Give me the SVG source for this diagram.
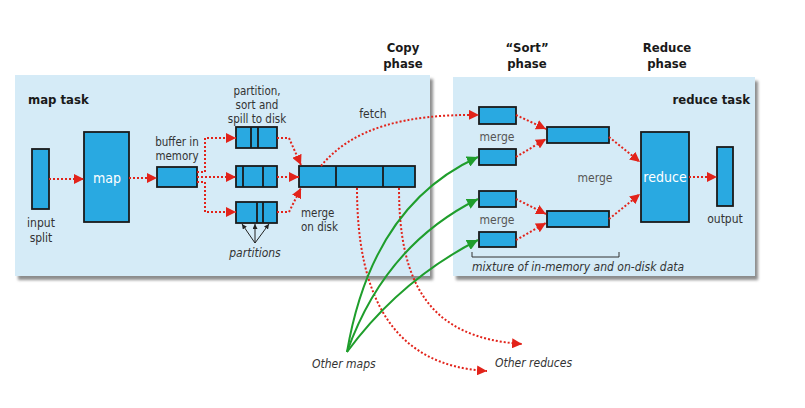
<svg xmlns="http://www.w3.org/2000/svg" width="805" height="408" viewBox="0 0 805 408">
<defs>
<filter id="sh" x="-5%" y="-5%" width="110%" height="115%"><feGaussianBlur stdDeviation="1.5"/></filter>
<marker id="ra" viewBox="0 0 10 10" refX="10" refY="5" markerWidth="10" markerHeight="10" markerUnits="userSpaceOnUse" orient="auto"><path d="M0,0 L10,5 L0,10 Z" fill="#e2231a"/></marker>
<marker id="ga" viewBox="0 0 10 10" refX="10" refY="5" markerWidth="11" markerHeight="11" markerUnits="userSpaceOnUse" orient="auto"><path d="M0,0 L10,5 L0,10 Z" fill="#1f9e2c"/></marker>
<marker id="ka" viewBox="0 0 10 10" refX="10" refY="5" markerWidth="5" markerHeight="5" markerUnits="userSpaceOnUse" orient="auto"><path d="M0,0 L10,5 L0,10 Z" fill="#222"/></marker>
<style>
.panel{fill:#d5ebf7}
.shadow{fill:#8c8c8c;filter:url(#sh)}
.box{fill:#29a9e1;stroke:#1a1a1a;stroke-width:1.8}
.div{stroke:#1a1a1a;stroke-width:1.8}
.red{fill:none;stroke:#e2231a;stroke-width:2;stroke-dasharray:2 2;marker-end:url(#ra)}
.grn{fill:none;stroke:#1f9e2c;stroke-width:2;marker-end:url(#ga)}
.blk{fill:none;stroke:#222;stroke-width:1;marker-end:url(#ka)}
text{font-family:"Liberation Sans Narrow","DejaVu Sans Condensed","Liberation Sans",sans-serif;fill:#333;font-size:12px}
.c{text-anchor:middle}
.b{font-weight:bold;fill:#1a1a1a;font-size:13px}
.i{font-style:italic}
.w{fill:#ffffff;font-size:14px}
.g{fill:#555}
.s{font-size:11.5px}
</style>
</defs>
<g id="map-task">
<rect class="shadow" x="18" y="79" width="415" height="201"/>
<rect class="panel" x="15" y="75" width="415" height="201"/>
<text x="28" y="104" class="b" font-size="14">map task</text>
</g>
<g id="reduce-task">
<rect class="shadow" x="456" y="81" width="302" height="199"/>
<rect class="panel" x="453" y="77" width="302" height="199"/>
<text x="750" y="104" class="b" text-anchor="end" font-size="14">reduce task</text>
</g>
<g id="phases">
<text x="403" y="52" class="b c">Copy</text><text x="403" y="68" class="b c">phase</text>
<text x="527" y="52" class="b c">“Sort”</text><text x="527" y="68" class="b c">phase</text>
<text x="667" y="52" class="b c">Reduce</text><text x="667" y="68" class="b c">phase</text>
</g>
<g id="input-split">
<rect class="box" x="32" y="149" width="17" height="60"/>
<text x="41" y="227" class="c">input</text><text x="41" y="242" class="c">split</text>
</g>
<g id="map">
<rect class="box" x="84" y="132" width="45" height="90"/>
<text x="107" y="183" class="c w">map</text>
</g>
<g id="buffer">
<rect class="box" x="157" y="167" width="40" height="20"/>
<text x="177" y="146" class="c s">buffer in</text><text x="177" y="160" class="c s">memory</text>
</g>
<g id="spills">
<text x="257" y="95" class="c s">partition,</text><text x="257" y="109" class="c s">sort and</text><text x="257" y="123" class="c s">spill to disk</text>
<rect class="box" x="236" y="127" width="41" height="21"/>
<line class="div" x1="251" y1="127" x2="251" y2="148"/><line class="div" x1="258" y1="127" x2="258" y2="148"/>
<rect class="box" x="236" y="166" width="41" height="21"/>
<line class="div" x1="243" y1="166" x2="243" y2="187"/><line class="div" x1="263" y1="166" x2="263" y2="187"/>
<rect class="box" x="236" y="202" width="41" height="21"/>
<line class="div" x1="257" y1="202" x2="257" y2="223"/><line class="div" x1="263" y1="202" x2="263" y2="223"/>
<text x="255" y="257" class="c i">partitions</text>
</g>
<g id="merged">
<rect class="box" x="299" y="166" width="116" height="21"/>
<line class="div" x1="336" y1="166" x2="336" y2="187"/><line class="div" x1="383" y1="166" x2="383" y2="187"/>
<text x="301" y="217" class="s">merge</text><text x="301" y="231" class="s">on disk</text>
<text x="373" y="118" class="c">fetch</text>
</g>
<g id="reduce-inputs">
<rect class="box" x="479" y="107" width="37" height="17"/>
<rect class="box" x="479" y="149" width="37" height="16"/>
<rect class="box" x="479" y="191" width="37" height="16"/>
<rect class="box" x="479" y="232" width="37" height="15"/>
<text x="497" y="141" class="c g">merge</text>
<text x="497" y="224" class="c g">merge</text>
<path d="M472,252 V257 H619 V252" fill="none" stroke="#333" stroke-width="1"/>
<text x="472" y="271" class="i">mixture of in-memory and on-disk data</text>
</g>
<g id="reduce-merges">
<rect class="box" x="547" y="127" width="62" height="16"/>
<rect class="box" x="547" y="211" width="62" height="16"/>
<text x="595" y="182" class="c g">merge</text>
</g>
<g id="reduce">
<rect class="box" x="641" y="132" width="48" height="90"/>
<text x="665" y="182" class="c w">reduce</text>
</g>
<g id="output">
<rect class="box" x="717" y="147" width="16" height="59"/>
<text x="725" y="223" class="c">output</text>
</g>
<g id="others">
<text x="312" y="368" class="i">Other maps</text>
<text x="495" y="367" class="i">Other reduces</text>
</g>
<g id="connectors">
<path class="red" d="M49,179 H84"/>
<path class="red" d="M129,178 H157"/>
<path class="red" d="M197,172 H205 V138 H236"/>
<path class="red" d="M197,177 H236"/>
<path class="red" d="M197,182 H205 V212 H236"/>
<path class="red" d="M277,138 H289 L301,165"/>
<path class="red" d="M277,177 H299"/>
<path class="red" d="M277,212 H289 L301,188"/>
<path class="red" d="M321,166 C352,128 405,114 479,115"/>
<path class="red" d="M357,188 C357,300 395,366 487,371"/>
<path class="red" d="M399,188 C399,285 430,338 522,344"/>
<path class="red" d="M516,115 L546,129"/>
<path class="red" d="M516,157 L546,139"/>
<path class="red" d="M516,199 L546,214"/>
<path class="red" d="M516,240 L546,223"/>
<path class="red" d="M609,137 L640,162"/>
<path class="red" d="M609,219 L640,194"/>
<path class="red" d="M689,177 H717"/>
<path class="grn" d="M347,352 Q372,205 478,157"/>
<path class="grn" d="M347,352 Q385,245 478,199"/>
<path class="grn" d="M347,352 Q400,280 478,240"/>
<path class="blk" d="M255,243 L242,224"/>
<path class="blk" d="M255,243 L255,224"/>
<path class="blk" d="M255,243 L269,224"/>
</g>
</svg>
